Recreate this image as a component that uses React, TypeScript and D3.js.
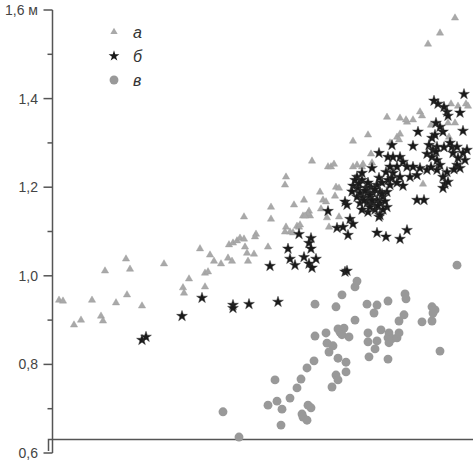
import React from "react";
import * as d3 from "d3";

// Series а (triangles): [x, height m]
const seriesA: [number, number][] = [
  [7, 0.945], [11, 0.943], [22, 0.889], [29, 0.9], [40, 0.945], [49, 0.909], [51, 0.898], [53, 1.011],
  [64, 0.939], [74, 1.038], [78, 1.015], [75, 0.957], [90, 0.932], [112, 1.027], [131, 0.973], [132, 0.961],
  [137, 0.993], [148, 1.061], [153, 1.006], [156, 1.009], [153, 0.975], [158, 1.047], [162, 1.033], [169, 1.027],
  [176, 1.04], [180, 1.033], [177, 1.07], [181, 1.074], [185, 1.079], [188, 1.085], [192, 1.083], [193, 1.065],
  [195, 1.051], [196, 1.033], [202, 1.049], [204, 1.094], [203, 1.088], [192, 1.133], [216, 1.065], [219, 1.155],
  [219, 1.128], [234, 1.223], [233, 1.205], [242, 1.16], [252, 1.171], [260, 1.259], [276, 1.246], [268, 1.189],
  [271, 1.171], [274, 1.167], [257, 1.146], [258, 1.135], [251, 1.135], [269, 1.151], [275, 1.131], [277, 1.11],
  [234, 1.11], [238, 1.099], [241, 1.097], [245, 1.112], [247, 1.11], [233, 1.099], [279, 1.246], [282, 1.252],
  [301, 1.246], [305, 1.25], [310, 1.246], [311, 1.252], [320, 1.255], [284, 1.2], [287, 1.198], [283, 1.18],
  [256, 1.14], [253, 1.135], [287, 1.133], [248, 1.115], [316, 1.318], [301, 1.304], [338, 1.3], [345, 1.313],
  [348, 1.32], [347, 1.307], [319, 1.275], [335, 1.358], [348, 1.356], [355, 1.347], [354, 1.352], [361, 1.352],
  [368, 1.37], [370, 1.361], [399, 1.388], [406, 1.383], [414, 1.388], [416, 1.383], [379, 1.34], [396, 1.345],
  [403, 1.345], [397, 1.313], [371, 1.207], [376, 1.523], [388, 1.548], [403, 1.582],
];

// Series б (stars)
const seriesB: [number, number][] = [
  [90, 0.855], [94, 0.862], [130, 0.909], [150, 0.95], [181, 0.934], [181, 0.927], [197, 0.936], [226, 0.941],
  [218, 1.022], [236, 1.061], [238, 1.038], [243, 1.024], [247, 1.094], [252, 1.042], [259, 1.085], [257, 1.074],
  [259, 1.061], [257, 1.027], [260, 1.018], [264, 1.038], [276, 1.146], [293, 1.009], [295, 1.011], [285, 1.108],
  [291, 1.11], [298, 1.128], [301, 1.117], [296, 1.092], [293, 1.167], [295, 1.16], [325, 1.097], [334, 1.088],
  [348, 1.083], [355, 1.103], [365, 1.171], [372, 1.171], [327, 1.133], [301, 1.203], [306, 1.198], [314, 1.198],
  [319, 1.2], [325, 1.205], [308, 1.187], [315, 1.187], [321, 1.187], [328, 1.189], [335, 1.189], [305, 1.178],
  [311, 1.176], [318, 1.176], [325, 1.171], [331, 1.178], [308, 1.164], [315, 1.164], [321, 1.164], [328, 1.164],
  [335, 1.155], [310, 1.149], [316, 1.144], [323, 1.149], [331, 1.149], [328, 1.137], [305, 1.223], [310, 1.216],
  [303, 1.216], [310, 1.232], [320, 1.243], [327, 1.221], [336, 1.216], [330, 1.21], [338, 1.205], [351, 1.203],
  [334, 1.234], [341, 1.232], [348, 1.223], [358, 1.223], [365, 1.227], [338, 1.246], [345, 1.246], [355, 1.246],
  [361, 1.246], [368, 1.243], [375, 1.239], [385, 1.239], [395, 1.234], [391, 1.223], [393, 1.207], [391, 1.198],
  [396, 1.212], [336, 1.268], [341, 1.268], [348, 1.268], [351, 1.257], [327, 1.277], [375, 1.275], [380, 1.268],
  [385, 1.261], [340, 1.295], [361, 1.293], [377, 1.295], [381, 1.284], [385, 1.291], [400, 1.291], [405, 1.291],
  [415, 1.284], [411, 1.277], [401, 1.277], [406, 1.266], [413, 1.261], [405, 1.25], [408, 1.243], [366, 1.325],
  [391, 1.325], [380, 1.311], [383, 1.318], [384, 1.345], [388, 1.336], [411, 1.327], [382, 1.395], [386, 1.388],
  [392, 1.381], [395, 1.37], [396, 1.361], [408, 1.368], [412, 1.41],
  [313, 1.192], [318, 1.182], [323, 1.195], [330, 1.185], [312, 1.17], [320, 1.17], [326, 1.158], [333, 1.168],
  [318, 1.155], [307, 1.208], [316, 1.21], [340, 1.22], [300, 1.19], [345, 1.21], [392, 1.29], [398, 1.3],
  [388, 1.25], [402, 1.24], [379, 1.245], [384, 1.28],
];

// Series в (circles)
const seriesC: [number, number][] = [
  [171, 0.693], [187, 0.636], [223, 0.765], [216, 0.708], [225, 0.717], [230, 0.699], [229, 0.663], [238, 0.724],
  [245, 0.747], [249, 0.767], [255, 0.792], [262, 0.808], [263, 0.864], [263, 0.936], [274, 0.871], [284, 0.93],
  [275, 0.848], [277, 0.828], [281, 0.842], [286, 0.88], [288, 0.873], [292, 0.882], [297, 0.862], [290, 0.867],
  [290, 0.957], [303, 0.975], [305, 0.988], [303, 0.9], [286, 0.814], [294, 0.805], [294, 0.783], [284, 0.776],
  [286, 0.765], [280, 0.749], [250, 0.688], [251, 0.681], [255, 0.674], [256, 0.708], [259, 0.702], [315, 0.936],
  [325, 0.934], [336, 0.943], [353, 0.959], [354, 0.948], [322, 0.916], [316, 0.871], [316, 0.851], [325, 0.853],
  [329, 0.878], [323, 0.835], [317, 0.817], [337, 0.871], [336, 0.86], [337, 0.849], [340, 0.858], [345, 0.86],
  [347, 0.871], [336, 0.812], [347, 0.898], [352, 0.912], [370, 0.896], [380, 0.93], [383, 0.923], [381, 0.916],
  [380, 0.898], [388, 0.83], [405, 1.024],
];

const yTicks = [0.6, 0.8, 1.0, 1.2, 1.4, 1.6];
const yMinorTicks = [0.7, 0.9, 1.1, 1.3, 1.5];
const legendLabels = ["а", "б", "в"];

export default function App() {
  const W = 473;
  const H = 465;
  const x = d3.scaleLinear().domain([0, 421]).range([52, 473]);
  const y = d3.scaleLinear().domain([0.6, 1.6]).range([453, 10]);
  const tri = d3.symbol().type(d3.symbolTriangle).size(23)() as string;
  const star = d3.symbol().type(d3.symbolStar).size(36)() as string;
  const circ = d3.symbol().type(d3.symbolCircle).size(62)() as string;
  const axisColor = "#555";
  const fmt = (v: number) => v.toFixed(1).replace(".", ",");
  const triFill = "#a9a9a9";
  const starFill = "#1a1a1a";
  const circFill = "#999";
  const axisX = x(0) + 0.5;
  const baseY = 439.5;

  return (
    <svg width={W} height={H} style={{ position: "absolute", left: 0, top: 0, fontFamily: "'Liberation Sans', Arial, sans-serif" }}>
      <rect width={W} height={H} fill="#fff" />
      {/* y axis */}
      <line x1={axisX} x2={axisX} y1={y(1.6)} y2={y(0.6)} stroke={axisColor} strokeWidth={1.5} />
      {yTicks.map((t) => (
        <g key={t}>
          <line x1={axisX - 9} x2={axisX} y1={y(t)} y2={y(t)} stroke={axisColor} strokeWidth={1.5} />
          <text x={38} y={y(t)} dy="0.35em" textAnchor="end" fontSize={14} fill="#444">
            {fmt(t) + (t === 1.6 ? " м" : "")}
          </text>
        </g>
      ))}
      {yMinorTicks.map((t) => (
        <line key={t} x1={axisX - 5} x2={axisX} y1={y(t)} y2={y(t)} stroke={axisColor} strokeWidth={1.5} />
      ))}
      {/* base line */}
      <path d={`M${axisX - 4},${y(0.6) - 2}V${baseY}H${W}`} fill="none" stroke={axisColor} strokeWidth={1.5} />

      {seriesA.map(([a, b], i) => (
        <path key={"a" + i} d={tri} transform={`translate(${x(a)},${y(b)})`} fill={triFill} stroke="#9a9a9a" strokeWidth={0.4} />
      ))}
      {seriesC.map(([a, b], i) => (
        <path key={"c" + i} d={circ} transform={`translate(${x(a)},${y(b)})`} fill={circFill} />
      ))}
      {seriesB.map(([a, b], i) => (
        <path key={"b" + i} d={star} transform={`translate(${x(a)},${y(b)})`} fill={starFill} stroke="#333" strokeWidth={0.5} />
      ))}

      {/* legend */}
      {legendLabels.map((lab, i) => {
        const cy = 32 + i * 24;
        const d = i === 0 ? tri : i === 1 ? star : circ;
        const fill = i === 0 ? triFill : i === 1 ? starFill : circFill;
        return (
          <g key={lab}>
            <path d={d} transform={`translate(114,${cy})`} fill={fill} />
            <text x={133} y={cy} dy="0.35em" fontSize={16} fontStyle="italic" fill="#333">
              {lab}
            </text>
          </g>
        );
      })}
    </svg>
  );
}
